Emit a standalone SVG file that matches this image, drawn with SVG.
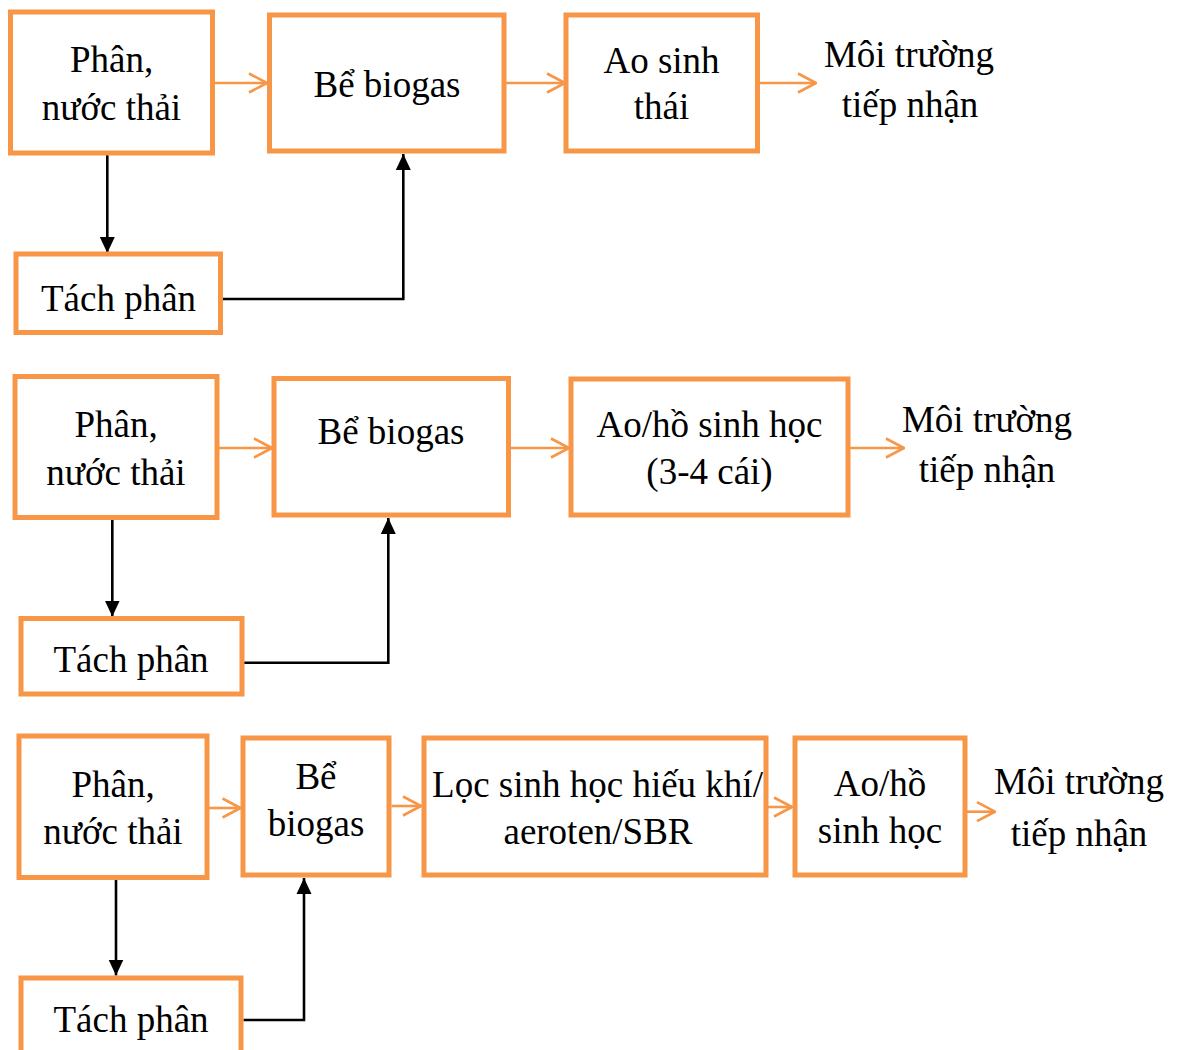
<svg xmlns="http://www.w3.org/2000/svg" width="1178" height="1050" viewBox="0 0 1178 1050">
<style>
.box{fill:#fff;stroke:#F79646;stroke-width:5}
.t{font-family:"Liberation Serif","Times New Roman",serif;font-size:37px;fill:#000;text-anchor:middle}
.oa{stroke:#F79646;stroke-width:2.6;fill:none;marker-end:url(#chev)}
.ba{stroke:#000;stroke-width:2.6;fill:none;marker-end:url(#tri)}
</style>
<defs>
<marker id="chev" markerUnits="userSpaceOnUse" viewBox="0 0 20 22" markerWidth="20" markerHeight="22" refX="19" refY="11" orient="auto">
<path d="M1,1.5 L19,11 L1,20.5" fill="none" stroke="#F79646" stroke-width="2.6"/>
</marker>
<marker id="tri" markerUnits="userSpaceOnUse" viewBox="0 0 16 16" markerWidth="16" markerHeight="16" refX="16" refY="8" orient="auto">
<path d="M0,0.5 L16,8 L0,15.5 z" fill="#000"/>
</marker>
</defs>
<rect width="1178" height="1050" fill="#fff"/>

<g id="connectors">
<line class="oa" x1="215" y1="83" x2="267" y2="83"/>
<line class="oa" x1="506" y1="83" x2="565" y2="83"/>
<line class="oa" x1="760" y1="83" x2="816" y2="83"/>
<line class="ba" x1="107.3" y1="155" x2="107.3" y2="253"/>
<polyline class="ba" points="222.5,299 403.3,299 403.3,154"/>

<line class="oa" x1="219" y1="448" x2="272" y2="448"/>
<line class="oa" x1="511" y1="448" x2="569" y2="448"/>
<line class="oa" x1="850" y1="448" x2="904" y2="448"/>
<line class="ba" x1="112.3" y1="520" x2="112.3" y2="616.5"/>
<polyline class="ba" points="244,662.7 388.3,662.7 388.3,518"/>

<line class="oa" x1="209" y1="808" x2="240.5" y2="808"/>
<line class="oa" x1="391.5" y1="806" x2="421" y2="806"/>
<line class="oa" x1="768" y1="807" x2="792" y2="807"/>
<line class="oa" x1="967" y1="811.7" x2="995" y2="811.7"/>
<line class="ba" x1="116" y1="880" x2="116" y2="975.5"/>
<polyline class="ba" points="243.5,1020 304,1020 304,878"/>
</g>

<g id="d1-phan"><rect class="box" x="10.5" y="12" width="202" height="141"/><text class="t" x="111.5" y="72">Phân,</text><text class="t" x="111.5" y="120">nước thải</text></g>
<g id="d1-biogas"><rect class="box" x="269.5" y="15" width="234.5" height="136"/><text class="t" x="387" y="97">Bể biogas</text></g>
<g id="d1-ao"><rect class="box" x="566" y="15" width="191.5" height="136"/><text class="t" x="661.5" y="73">Ao sinh</text><text class="t" x="661.5" y="119">thái</text></g>
<g id="d1-moi"><text class="t" x="909" y="67">Môi trường</text><text class="t" x="910" y="117">tiếp nhận</text></g>
<g id="d1-tach"><rect class="box" x="16" y="254" width="204.5" height="78.5"/><text class="t" x="118.5" y="311">Tách phân</text></g>

<g id="d2-phan"><rect class="box" x="15" y="376.5" width="202" height="141"/><text class="t" x="116" y="437">Phân,</text><text class="t" x="116" y="485">nước thải</text></g>
<g id="d2-biogas"><rect class="box" x="274" y="378.5" width="234.5" height="136.5"/><text class="t" x="391" y="444">Bể biogas</text></g>
<g id="d2-ao"><rect class="box" x="571" y="379" width="277" height="136"/><text class="t" x="709.5" y="437">Ao/hồ sinh học</text><text class="t" x="709.5" y="484">(3-4 cái)</text></g>
<g id="d2-moi"><text class="t" x="987" y="432">Môi trường</text><text class="t" x="987" y="482">tiếp nhận</text></g>
<g id="d2-tach"><rect class="box" x="21" y="618.5" width="221" height="75.5"/><text class="t" x="131" y="672">Tách phân</text></g>

<g id="d3-phan"><rect class="box" x="19" y="736" width="188" height="141.5"/><text class="t" x="113" y="797">Phân,</text><text class="t" x="113" y="844">nước thải</text></g>
<g id="d3-biogas"><rect class="box" x="243" y="738" width="146" height="137"/><text class="t" x="316" y="789">Bể</text><text class="t" x="316" y="836">biogas</text></g>
<g id="d3-loc"><rect class="box" x="424" y="738" width="342" height="137"/><text class="t" x="597.5" y="797">Lọc sinh học hiếu khí/</text><text class="t" x="598" y="844">aeroten/SBR</text></g>
<g id="d3-ao"><rect class="box" x="795" y="738" width="170" height="137"/><text class="t" x="880" y="796">Ao/hồ</text><text class="t" x="880" y="843">sinh học</text></g>
<g id="d3-moi"><text class="t" x="1079" y="794">Môi trường</text><text class="t" x="1079" y="846">tiếp nhận</text></g>
<g id="d3-tach"><rect class="box" x="21" y="978" width="220" height="76"/><text class="t" x="131" y="1032">Tách phân</text></g>
</svg>
